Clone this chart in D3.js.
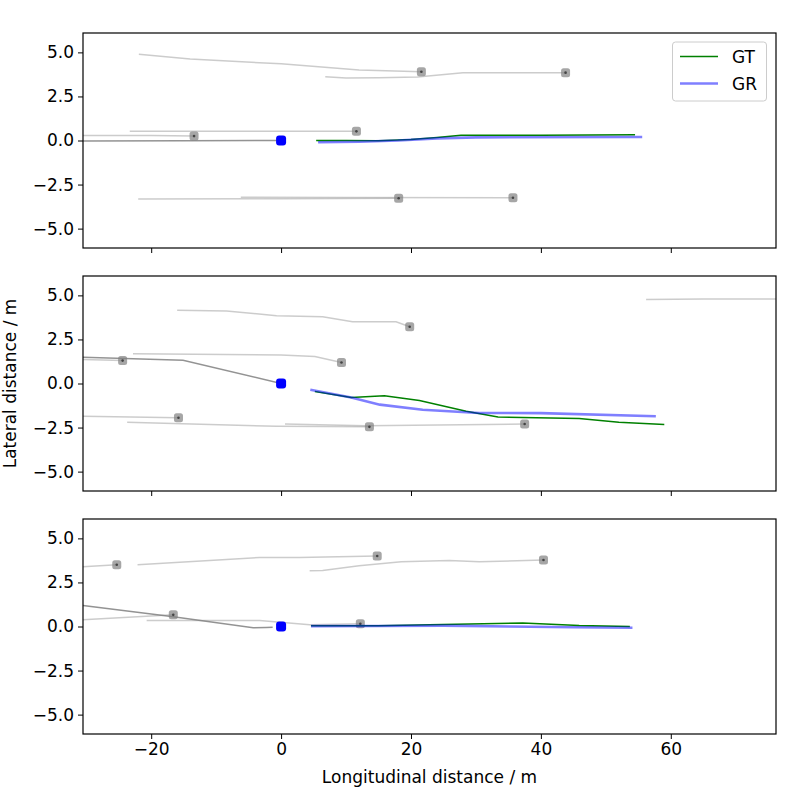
<!DOCTYPE html>
<html>
<head>
<meta charset="utf-8">
<script src="https://cdn.jsdelivr.net/npm/d3@7"></script>
<style>
body { margin: 0; background: #fff; }
text { font-family: "DejaVu Sans", sans-serif; }
</style>
</head>
<body>
<svg id="chart" width="791" height="795"></svg>
<script>
const X_DOMAIN = [-30.5, 76.2];
const Y_DOMAIN = [-6.1, 6.1];
const X_TICKS = [-20, 0, 20, 40, 60];
const Y_TICKS = [-5, -2.5, 0, 2.5, 5];

// other objects: [x, y] track points, last point carries the marker
const tracks1 = [
    [[-21.9, 4.9], [-14, 4.62], [0, 4.35], [12, 4.0], [21.6, 3.9]],
    [[6.8, 3.62], [10, 3.55], [15, 3.56], [21, 3.6], [28, 3.85], [43.8, 3.85]],
    [[-23.3, 0.52], [0, 0.52], [11.6, 0.52]],
    [[-30.5, 0.29], [-20, 0.28], [-13.4, 0.25]],
    [[-22, -3.32], [0, -3.3], [18.1, -3.28]],
    [[-6.2, -3.22], [10, -3.23], [35.7, -3.25]]
];
const tracks2 = [
    [[-16, 4.16], [-8.4, 4.12], [-0.7, 3.84], [6.4, 3.79], [11, 3.5], [17.7, 3.5], [19.8, 3.22]],
    [[-22.8, 1.69], [0, 1.62], [5.2, 1.53], [9.3, 1.19]],
    [[-30.5, 1.36], [-24.4, 1.3]],
    [[-30.5, -1.86], [-15.8, -1.94]],
    [[-23.7, -2.2], [-0.7, -2.43], [13.6, -2.46]],
    [[0.6, -2.3], [13, -2.4], [37.5, -2.3]]
];
const tracks2NoMarker = [
    [[56.2, 4.76], [65, 4.8], [76.2, 4.8]]
];
const tracks3 = [
    [[-30.5, 3.39], [-25.3, 3.5]],
    [[-22.1, 3.5], [-3.3, 3.92], [2.8, 3.92], [14.8, 4.0]],
    [[4.4, 3.16], [6.4, 3.18], [12, 3.45], [18.5, 3.68], [25.9, 3.75], [30.5, 3.68], [40.4, 3.77]],
    [[-30.5, 0.38], [-16.6, 0.66]],
    [[-20.7, 0.34], [-3.3, 0.34], [4.4, 0.1], [12.2, 0.15]]
];
// ego history (darker gray)
const ego1 = [[-30.5, -0.03], [-15, -0.02], [-0.5, 0]];
const ego2 = [[-30.5, 1.49], [-15.1, 1.32], [0, 0]];
const ego3 = [[-30.5, 1.19], [-16.6, 0.56], [-4.3, -0.07], [-2.3, -0.05], [-1.3, -0.04]];

const gt1 = [[5.4, 0], [10, 0], [15, -0.02], [20, 0.05], [24, 0.17], [27.7, 0.3], [40, 0.3], [54.5, 0.33]];
const gr1 = [[5.7, -0.1], [12, -0.07], [18, 0], [24, 0.12], [30, 0.18], [55.6, 0.2]];
const gt2 = [[5.2, -0.45], [10.8, -0.79], [15.9, -0.7], [21.3, -0.96], [28.5, -1.58], [33.4, -1.9], [45.9, -1.99], [52, -2.2], [59, -2.33]];
const gr2 = [[4.5, -0.36], [10.8, -0.79], [15.2, -1.2], [21.8, -1.49], [30.5, -1.67], [40, -1.68], [57.7, -1.86]];
const gt3 = [[4.6, 0.04], [15, 0.04], [22.8, 0.1], [37.2, 0.2], [45.9, 0.06], [53.7, 0]];
const gr3 = [[4.6, 0.02], [15, 0.03], [25, 0.05], [35, 0], [45, -0.04], [54.1, -0.07]];

const panels = [
    { top: 33, tracks: tracks1, extra: [], ego: ego1, gt: gt1, gr: gr1 },
    { top: 276, tracks: tracks2, extra: tracks2NoMarker, ego: ego2, gt: gt2, gr: gr2 },
    { top: 519, tracks: tracks3, extra: [], ego: ego3, gt: gt3, gr: gr3 }
];

const svg = d3.select('#chart');
const left = 83, right = 776, height = 215;
const FS = 17;

const x = d3.scaleLinear().domain(X_DOMAIN).range([left, right]);

panels.forEach((p, i) => {
    const y = d3.scaleLinear().domain(Y_DOMAIN).range([p.top + height, p.top]);
    const line = d3.line().x(d => x(d[0])).y(d => y(d[1]));
    const g = svg.append('g');

    g.selectAll('.trk').data(p.tracks.concat(p.extra)).join('path')
        .attr('d', line).attr('fill', 'none')
        .attr('stroke', '#808080').attr('stroke-opacity', 0.4).attr('stroke-width', 1.5);
    g.append('path').attr('d', line(p.ego)).attr('fill', 'none')
        .attr('stroke', '#808080').attr('stroke-opacity', 0.85).attr('stroke-width', 1.5);

    const ends = p.tracks.map(t => t[t.length - 1]);
    g.selectAll('.mk').data(ends).join('rect')
        .attr('x', d => x(d[0]) - 4.5).attr('y', d => y(d[1]) - 4.5)
        .attr('width', 9).attr('height', 9).attr('rx', 2.5)
        .attr('fill', '#808080').attr('fill-opacity', 0.7);
    g.selectAll('.mc').data(ends).join('circle')
        .attr('cx', d => x(d[0])).attr('cy', d => y(d[1])).attr('r', 1.3)
        .attr('fill', '#444');

    g.append('path').attr('d', line(p.gt)).attr('fill', 'none')
        .attr('stroke', 'green').attr('stroke-width', 1.5);
    g.append('path').attr('d', line(p.gr)).attr('fill', 'none')
        .attr('stroke', 'blue').attr('stroke-opacity', 0.5).attr('stroke-width', 2.6);

    g.append('rect').attr('x', x(0) - 5).attr('y', y(0) - 5)
        .attr('width', 10).attr('height', 10).attr('rx', 3).attr('fill', 'blue');

    const ya = g.append('g').attr('transform', `translate(${left},0)`)
        .call(d3.axisLeft(y).tickValues(Y_TICKS).tickSize(5).tickPadding(4).tickFormat(d3.format('.1f')));
    ya.select('.domain').remove();
    const xa = g.append('g').attr('transform', `translate(0,${p.top + height})`)
        .call(d3.axisBottom(x).tickValues(X_TICKS).tickSize(5).tickPadding(4).tickFormat(i === 2 ? d3.format('d') : ''));
    xa.select('.domain').remove();
    g.selectAll('.tick text').attr('font-size', FS).attr('fill', '#000')
        .text(function () { return this.textContent.replace('-', '\u2212'); });
    g.selectAll('.tick line').attr('stroke', '#000');

    g.append('rect').attr('x', left).attr('y', p.top).attr('width', right - left).attr('height', height)
        .attr('fill', 'none').attr('stroke', '#000').attr('stroke-width', 1.2);
});

// legend
const lg = svg.append('g');
lg.append('rect').attr('x', 672.5).attr('y', 42).attr('width', 94).attr('height', 59).attr('rx', 3)
    .attr('fill', '#fff').attr('stroke', '#ccc');
lg.append('line').attr('x1', 680).attr('x2', 718).attr('y1', 56.5).attr('y2', 56.5)
    .attr('stroke', 'green').attr('stroke-width', 1.5);
lg.append('line').attr('x1', 680).attr('x2', 718).attr('y1', 83.5).attr('y2', 83.5)
    .attr('stroke', 'blue').attr('stroke-opacity', 0.5).attr('stroke-width', 2.6);
lg.append('text').attr('x', 732).attr('y', 62.5).attr('font-size', FS).text('GT');
lg.append('text').attr('x', 732).attr('y', 89.5).attr('font-size', FS).text('GR');

svg.append('text').attr('x', (left + right) / 2).attr('y', 783).attr('text-anchor', 'middle')
    .attr('font-size', FS).text('Longitudinal distance / m');
svg.append('text').attr('transform', `translate(16,${276 + height / 2}) rotate(-90)`)
    .attr('text-anchor', 'middle').attr('font-size', FS).text('Lateral distance / m');
</script>
</body>
</html>
